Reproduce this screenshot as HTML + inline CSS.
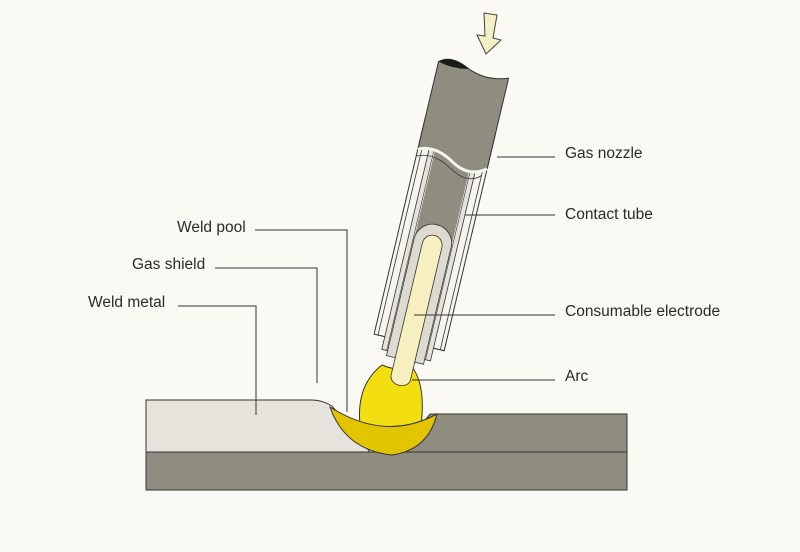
<!DOCTYPE html>
<html><head><style>
html,body{margin:0;padding:0;background:#fbf9f4;}
svg{display:block}
text{font-family:"Liberation Sans",sans-serif;font-size:15.5px;fill:#2a2a2a}
</style></head><body>
<svg width="800" height="552" viewBox="0 0 800 552" xmlns="http://www.w3.org/2000/svg">
<rect width="800" height="552" fill="#fbf9f4"/>
<!-- plate -->
<rect x="146" y="452" width="481" height="38" fill="#8e8d7f" stroke="#333" stroke-width="1"/>
<path d="M146 452 L146 400 L312 400 Q322 400 332 406 L370 452 Z" fill="#e6e3dc" stroke="#333" stroke-width="1"/>
<path d="M430 414 L627 414 L627 452 L400 452 Z" fill="#8e8d7f" stroke="#333" stroke-width="1"/>
<!-- arc -->
<path d="M360 425 Q356 385 382 365 Q398 372 412 367 Q426 385 421 426 Q390 432 360 425 Z" fill="#f3df0f" stroke="#333" stroke-width="1"/>
<!-- weld pool -->
<path d="M330 407 Q385 442 437 414 Q428 450 392 455 Q345 450 330 407 Z" fill="#e2c400" stroke="#333" stroke-width="1"/>
<!-- torch -->
<g transform="translate(474,68) rotate(13.3)">
  <rect x="-36" y="60" width="72" height="222" fill="#f6f4ee" stroke="#333" stroke-width="1"/>
  <rect x="-32" y="60" width="64" height="222" fill="none" stroke="#333" stroke-width="0.8"/>
  <rect x="-25" y="80" width="50" height="215" fill="#e4e2da" stroke="#333" stroke-width="0.8"/>
  <rect x="-20" y="80" width="40" height="215" fill="#f6f4ee" stroke="#333" stroke-width="0.6"/>
  <rect x="-19" y="80" width="38" height="100" fill="#8e8d7f"/>
  <path d="M-19 300 L-19 180 A19 19 0 0 1 19 180 L19 300 Z" fill="#dddad1" stroke="#333" stroke-width="0.8"/>
  <path d="M-10 318 L-10 182 A10 10 0 0 1 10 182 L10 318 A10 8 0 0 1 -10 318 Z" fill="#f6efbf" stroke="#333" stroke-width="0.8"/>
  <path d="M-36 2 Q-25 -8 -5 2 Q15 10 36 2 L36 95 Q20 108 0 96 Q-20 84 -36 92 Z" fill="#8e8d7f" stroke="#333" stroke-width="1"/>
  <path d="M-36 92 Q-20 84 0 96 Q20 108 36 95" fill="none" stroke="#f6f4ee" stroke-width="3"/>
  <path d="M-36 99 Q-20 91 0 103 Q20 115 32 103" fill="none" stroke="#333" stroke-width="0.8"/>
  <path d="M-36 2 Q-25 -8 -5 2 Q-20 6 -36 2 Z" fill="#1a1a1a"/>
</g>
<!-- arrow -->
<path d="M484 13 L497 15 L493 38 L501 40 L486 54 L477 35 L485 36 Z" fill="#f5efc4" stroke="#444" stroke-width="1"/>
<!-- leader lines -->
<g stroke="#333" stroke-width="1" fill="none">
<path d="M497 157 H555"/>
<path d="M465 215 H555"/>
<path d="M414 315 H555"/>
<path d="M412 380 H555"/>
<path d="M255 230 H347 V412"/>
<path d="M215 268 H317 V383"/>
<path d="M178 306 H256 V415"/>
</g>
<text x="565" y="158">Gas nozzle</text>
<text x="565" y="219">Contact tube</text>
<text x="565" y="316">Consumable electrode</text>
<text x="565" y="381">Arc</text>
<text x="177" y="232">Weld pool</text>
<text x="132" y="269">Gas shield</text>
<text x="88" y="307">Weld metal</text>
</svg>
</body></html>
